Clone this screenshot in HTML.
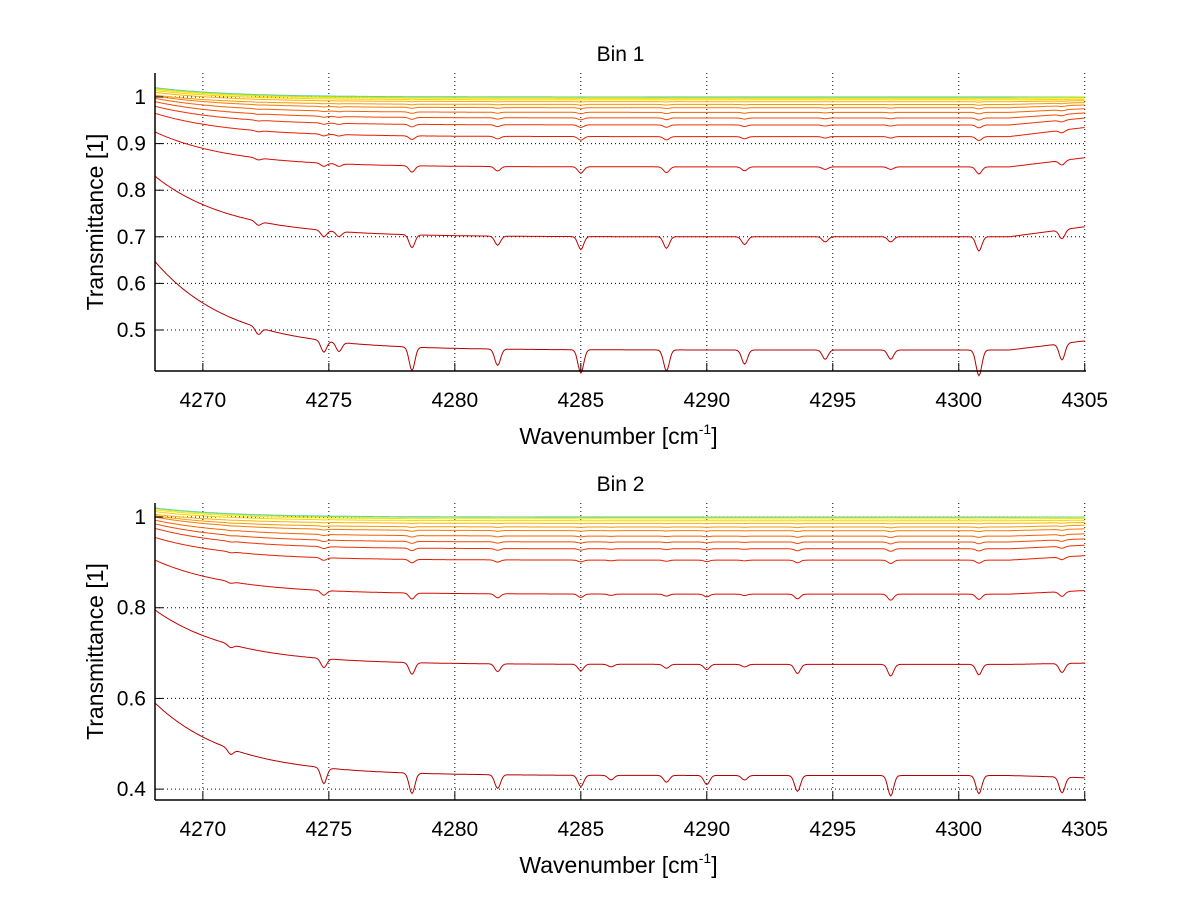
<!DOCTYPE html>
<html><head><meta charset="utf-8"><style>
body{margin:0;background:#fff;}
svg{display:block;font-family:"Liberation Sans Narrow","Liberation Sans",sans-serif;}
</style></head><body>
<svg id="chart" width="1200" height="901" xmlns="http://www.w3.org/2000/svg"></svg>
<script>
// ---- data ----
const xTicks = [4270,4275,4280,4285,4290,4295,4300,4305];
const yTicksTop = [0.5,0.6,0.7,0.8,0.9,1];
const yTickLabelsTop = ["0.5","0.6","0.7","0.8","0.9","1"];
const yTicksBot = [0.4,0.6,0.8,1];
const yTickLabelsBot = ["0.4","0.6","0.8","1"];
// per-curve plateau level, excess at left edge, level at right edge (Bin 1)
const plateauTop = [0.457,0.700,0.850,0.915,0.940,0.955,0.967,0.977,0.984,0.990,0.994,0.997,0.999,1.0];
const excessTop  = [0.19,0.13,0.075,0.05,0.04,0.035,0.03,0.025,0.02,0.02,0.02,0.02,0.02,0.02];
const rightTop   = [0.477,0.722,0.870,0.935,0.955,0.966,0.975,0.983,0.988,0.992,0.995,0.998,1.0,1.0];
const plateauBot = [0.430,0.675,0.830,0.905,0.930,0.945,0.958,0.970,0.978,0.986,0.992,0.996,0.999,1.0];
const excessBot  = [0.16,0.12,0.075,0.05,0.045,0.04,0.035,0.03,0.025,0.02,0.02,0.02,0.02,0.02];
const rightBot   = [0.425,0.678,0.838,0.915,0.938,0.952,0.963,0.974,0.982,0.988,0.993,0.997,1.0,1.0];
// absorption line centres and depths (for lowest curve)
const linesTop  = [4272.2,4274.8,4275.4,4278.3,4281.7,4285.0,4288.4,4291.5,4294.7,4297.3,4300.8,4304.1];
const depthsTop = [0.015,0.025,0.02,0.05,0.035,0.05,0.045,0.03,0.02,0.02,0.055,0.035];
const linesBot  = [4271.1,4274.8,4278.3,4281.7,4285.0,4286.2,4288.4,4290.0,4291.5,4293.6,4297.3,4300.8,4304.1];
const depthsBot = [0.012,0.035,0.045,0.03,0.025,0.01,0.015,0.02,0.01,0.035,0.045,0.04,0.035];
const colors = ["#b30000","#c40000","#d80a00","#e61e00","#ee3300","#f24a00","#f56200","#f87a00","#fb9500","#fdb000","#ffd000","#e8e800","#a0e040","#30c0e0"];

const svg = document.getElementById('chart');
const NS = "http://www.w3.org/2000/svg";
function mk(tag, attrs, parent){const e=document.createElementNS(NS,tag);for(const k in attrs)e.setAttribute(k,attrs[k]);(parent||svg).appendChild(e);return e;}

function panel(cfg){
  const {top,bottom,left,right,xmin,xmax,ymin,ymax,yTicks,yLabels,plateau,excess,rightLv,lines,depths,title,name}=cfg;
  const g = mk('g',{});
  
  
  const X=v=>left+(v-xmin)/(xmax-xmin)*(right-left);
  const Y=v=>bottom-(v-ymin)/(ymax-ymin)*(bottom-top);
  xTicks.forEach(t=>{const l=mk('line',{x1:X(t),x2:X(t),y1:top,y2:bottom,stroke:'#000','stroke-width':1,'stroke-dasharray':'1,3'},g);
    });
  yTicks.forEach(t=>{const l=mk('line',{x1:left,x2:right,y1:Y(t),y2:Y(t),stroke:'#000','stroke-width':1,'stroke-dasharray':'1,3'},g);
    });
  const cg = mk('g',{},g);
  for(let i=plateau.length-1;i>=0;i--){
    let d='';
    const scale=(1-plateau[i])/(1-plateau[0]);
    for(let x=xmin;x<=xmax;x+=0.05){
      let base=plateau[i]+excess[i]*Math.exp(-(x-xmin)/3.0);
      if(x>4302) base+= (rightLv[i]-plateau[i])*(x-4302)/(xmax-4302);
      let v=base;
      lines.forEach((c,k)=>{v-=depths[k]*scale*Math.exp(-Math.pow((x-c)/0.16,2));});
      d+=(d?'L':'M')+X(x).toFixed(1)+','+Y(Math.min(v,ymax)).toFixed(1);
    }
    const p=mk('path',{d:d,fill:'none',stroke:colors[i],'stroke-width':1},cg);
    
    
  }
  const ax=mk('line',{x1:left,x2:left,y1:top,y2:bottom,stroke:'#000','stroke-width':1.5},g);
  
  const bx=mk('line',{x1:left,x2:right,y1:bottom,y2:bottom,stroke:'#000','stroke-width':1.5},g);
  
  xTicks.forEach(t=>{
    const tl=mk('line',{x1:X(t),x2:X(t),y1:bottom,y2:bottom-8,stroke:'#000'},g);
    
    const tx=mk('text',{x:X(t),y:bottom+36,'text-anchor':'middle','font-size':21},g);
    tx.textContent=t;
    
  });
  yTicks.forEach((t,i)=>{
    const tl=mk('line',{x1:left,x2:left+8,y1:Y(t),y2:Y(t),stroke:'#000'},g);
    
    const tx=mk('text',{x:left-9,y:Y(t)+7,'text-anchor':'end','font-size':21},g);
    tx.textContent=yLabels[i];
    
  });
  const tt=mk('text',{x:(left+right)/2,y:top-12,'text-anchor':'middle','font-size':21},g);
  tt.textContent=title;
  
  const xl=mk('text',{x:(left+right)/2-2,y:bottom+73,'text-anchor':'middle','font-size':23},g);
  xl.innerHTML='Wavenumber [cm<tspan dy="-10" font-size="14">-1</tspan><tspan dy="10">]</tspan>';
  
  const cy=(top+bottom)/2;
  const yl=mk('text',{x:103,y:cy,'text-anchor':'middle','font-size':23,transform:`rotate(-90 103 ${cy})`},g);
  yl.textContent='Transmittance [1]';
  
}
panel({name:'bin-1-panel',title:'Bin 1',top:73,bottom:371,left:155,right:1086,xmin:4268.1,xmax:4305.05,ymin:0.412,ymax:1.0515,
  yTicks:yTicksTop,yLabels:yTickLabelsTop,plateau:plateauTop,excess:excessTop,rightLv:rightTop,lines:linesTop,depths:depthsTop});
panel({name:'bin-2-panel',title:'Bin 2',top:503,bottom:800,left:155,right:1086,xmin:4268.1,xmax:4305.05,ymin:0.376,ymax:1.031,
  yTicks:yTicksBot,yLabels:yTickLabelsBot,plateau:plateauBot,excess:excessBot,rightLv:rightBot,lines:linesBot,depths:depthsBot});
</script>
</body></html>
